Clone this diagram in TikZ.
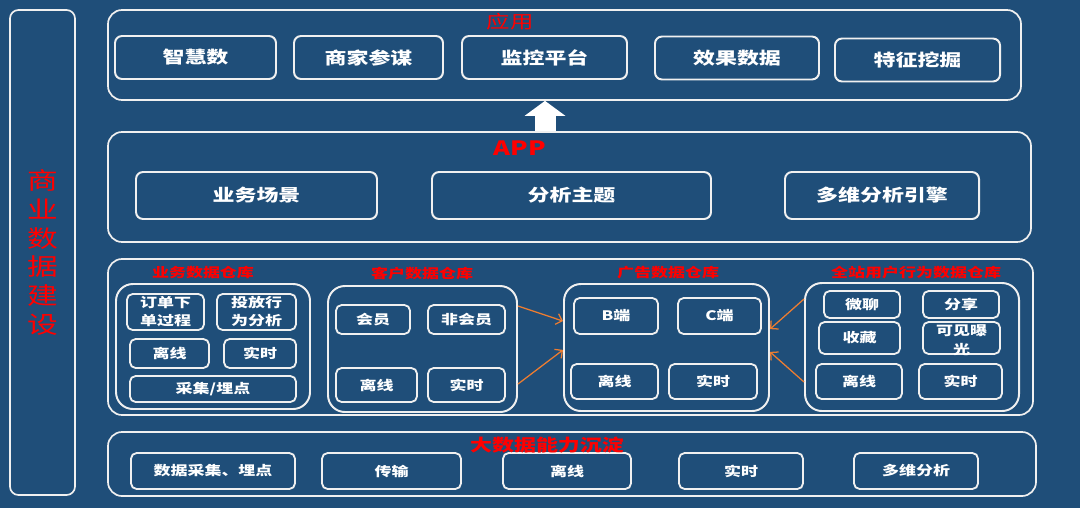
\documentclass[tikz,border=0pt]{standalone}
\usepackage{fontspec}
\setmainfont{Noto Sans CJK SC}[FakeStretch=1.3]
\usetikzlibrary{arrows.meta}

\definecolor{bgblue}{RGB}{31,78,121}
\definecolor{frame}{RGB}{240,240,240}
\definecolor{ttlred}{RGB}{255,0,0}
\definecolor{flow}{RGB}{237,125,49}

\begin{document}
\begin{tikzpicture}[
  font=\bfseries,
  layer/.style ={draw=frame,line width=1.2pt,rounded corners=10pt},
  grp/.style   ={draw=frame,line width=1.4pt,rounded corners=12pt},
  bigbox/.style={draw=frame,line width=1.4pt,rounded corners=5pt,text=white,
                 font=\fontsize{12}{14}\selectfont\bfseries},
  cell/.style  ={draw=frame,line width=1.3pt,rounded corners=4pt,text=white,
                 align=center,inner sep=1pt,font=\fontsize{9.3}{12.8}\selectfont\bfseries},
  ttl/.style   ={text=ttlred,font=\fontsize{9.3}{11}\selectfont\bfseries},
  flowarr/.style={draw=flow,line width=0.9pt,-{Straight Barb[length=4pt,width=8pt]}},
  blockarr/.style={white,line width=0.525cm,-{Triangle[length=0.375cm,width=1cm]}},
]

\fill[bgblue] (0,0) rectangle (27,-12.7);
\useasboundingbox (0,0) rectangle (27,-12.7);

%% =====================================================
%%  Side label
%% =====================================================
\node[layer,rounded corners=6pt,minimum width=1.625cm,minimum height=12.125cm,
      text=ttlred,align=center,font=\fontsize{16.8}{20.6}\selectfont] (side)
      at (1.0625,-6.3125) {商\\业\\数\\据\\建\\设};

%% =====================================================
%%  应用 layer
%% =====================================================
\node[layer,minimum width=22.825cm,minimum height=2.25cm] (uselayer) at (14.1125,-1.375) {};
\node[text=ttlred,font=\fontsize{12.8}{14}\selectfont] (usettl) at (12.75,-0.55) {应用};

\node[bigbox,minimum width=4.025cm,minimum height=1.075cm] (u1) at (4.8875,-1.4375) {智慧数};
\node[bigbox,minimum width=3.725cm,minimum height=1.075cm] (u2) at (9.2125,-1.4375) {商家参谋};
\node[bigbox,minimum width=4.125cm,minimum height=1.075cm] (u3) at (13.6125,-1.4375) {监控平台};
\node[bigbox,minimum width=4.1cm,minimum height=1.075cm]   (u4) at (18.425,-1.45) {效果数据};
\node[bigbox,minimum width=4.125cm,minimum height=1.075cm] (u5) at (22.9375,-1.5) {特征挖掘};

%% =====================================================
%%  APP layer
%% =====================================================
\node[layer,minimum width=23.075cm,minimum height=2.75cm] (applayer) at (14.2375,-4.675) {};
\node[text=ttlred,font=\fontsize{14}{16}\selectfont\bfseries] (appttl) at (13.0,-3.7) {APP};

\node[bigbox,minimum width=6.025cm,minimum height=1.175cm] (a1) at (6.4125,-4.8875) {业务场景};
\node[bigbox,minimum width=6.975cm,minimum height=1.175cm] (a2) at (14.2875,-4.8875) {分析主题};
\node[bigbox,minimum width=4.85cm,minimum height=1.175cm]  (a3) at (22.05,-4.8875) {多维分析引擎};

\coordinate (arrx) at (13.625,0);
\draw[blockarr] (applayer.north -| arrx) -- (uselayer.south -| arrx);

%% =====================================================
%%  Data warehouse layer
%% =====================================================
\node[layer,minimum width=23.125cm,minimum height=3.9cm] (dwlayer) at (14.2625,-8.425) {};

\node[ttl] at (5.075,-6.825) {业务数据仓库};
\node[ttl] at (10.55,-6.825) {客户数据仓库};
\node[ttl] at (16.7,-6.825)  {广告数据仓库};
\node[ttl] at (22.9,-6.825)  {全站用户行为数据仓库};

% 业务
\node[grp,minimum width=4.85cm,minimum height=3.125cm] (gbiz) at (5.325,-8.6625) {};
\node[cell,minimum width=1.925cm,minimum height=0.9cm]   at (4.1375,-7.8)   {订单下\\单过程};
\node[cell,minimum width=1.975cm,minimum height=0.9cm]   at (6.4125,-7.8)   {投放行\\为分析};
\node[cell,minimum width=1.975cm,minimum height=0.725cm] at (4.2375,-8.8375) {离线};
\node[cell,minimum width=1.8cm,minimum height=0.725cm]   at (6.5,-8.8375)    {实时};
\node[cell,minimum width=4.15cm,minimum height=0.65cm]   at (5.325,-9.725)   {采集/埋点};

% 客户
\node[grp,minimum width=4.725cm,minimum height=3.15cm] (gcust) at (10.5625,-8.725) {};
\node[cell,minimum width=1.85cm,minimum height=0.725cm]  at (9.325,-7.9875)   {会员};
\node[cell,minimum width=1.925cm,minimum height=0.725cm] at (11.6625,-7.9875)  {非会员};
\node[cell,minimum width=2.025cm,minimum height=0.85cm]  at (9.4125,-9.625)    {离线};
\node[cell,minimum width=1.925cm,minimum height=0.85cm]  at (11.6625,-9.625)   {实时};

% 广告
\node[grp,minimum width=5.125cm,minimum height=3.175cm] (gad) at (16.6625,-8.6875) {};
\node[cell,minimum width=2.1cm,minimum height=0.9cm]     at (15.4,-7.9)      {B端};
\node[cell,minimum width=2.075cm,minimum height=0.9cm]   at (17.9875,-7.9)   {C端};
\node[cell,minimum width=2.175cm,minimum height=0.875cm] at (15.3625,-9.5375) {离线};
\node[cell,minimum width=2.2cm,minimum height=0.875cm]   at (17.825,-9.5375)  {实时};

% 全站用户行为
\node[grp,minimum width=5.35cm,minimum height=3.2cm] (gsite) at (22.8,-8.675) {};
\node[cell,minimum width=1.9cm,minimum height=0.675cm]   at (21.55,-7.6125)  {微聊};
\node[cell,minimum width=1.9cm,minimum height=0.675cm]   at (24.025,-7.6125) {分享};
\node[cell,minimum width=2.025cm,minimum height=0.8cm]   at (21.4875,-8.45)  {收藏};
\node[cell,minimum width=1.925cm,minimum height=0.8cm,
      label={[text=white,align=center,yshift=-0.06cm,
              font=\fontsize{9.3}{13.5}\selectfont\bfseries]center:可见曝\\光}]
      at (24.0375,-8.45) {};
\node[cell,minimum width=2.15cm,minimum height=0.875cm]  at (21.475,-9.5375) {离线};
\node[cell,minimum width=2.075cm,minimum height=0.875cm] at (24.0125,-9.5375) {实时};

\draw[flowarr] ([yshift=1.075cm]gcust.east)  -- ([yshift=0.66cm]gad.west);
\draw[flowarr] ([yshift=-0.875cm]gcust.east) -- ([yshift=-0.06cm]gad.west);
\draw[flowarr] ([yshift=1.2cm]gsite.west)    -- ([yshift=0.46cm]gad.east);
\draw[flowarr] ([yshift=-0.875cm]gsite.west) -- ([yshift=-0.11cm]gad.east);

%% =====================================================
%%  大数据能力沉淀 layer
%% =====================================================
\node[layer,minimum width=23.2cm,minimum height=1.6cm] (bdlayer) at (14.3,-11.6) {};

\node[cell,minimum width=4.1cm,minimum height=0.9cm]   at (5.325,-11.775)  {数据采集、埋点};
\node[cell,minimum width=3.475cm,minimum height=0.9cm] at (9.7875,-11.775) {传输};
\node[cell,minimum width=3.2cm,minimum height=0.9cm]   at (14.175,-11.775) {离线};
\node[cell,minimum width=3.1cm,minimum height=0.9cm]   at (18.525,-11.775) {实时};
\node[cell,minimum width=3.1cm,minimum height=0.9cm]   at (22.9,-11.775)   {多维分析};

\node[text=ttlred,font=\fontsize{12}{14}\selectfont\bfseries] (bdttl) at (13.675,-11.125) {大数据能力沉淀};

\end{tikzpicture}
\end{document}
